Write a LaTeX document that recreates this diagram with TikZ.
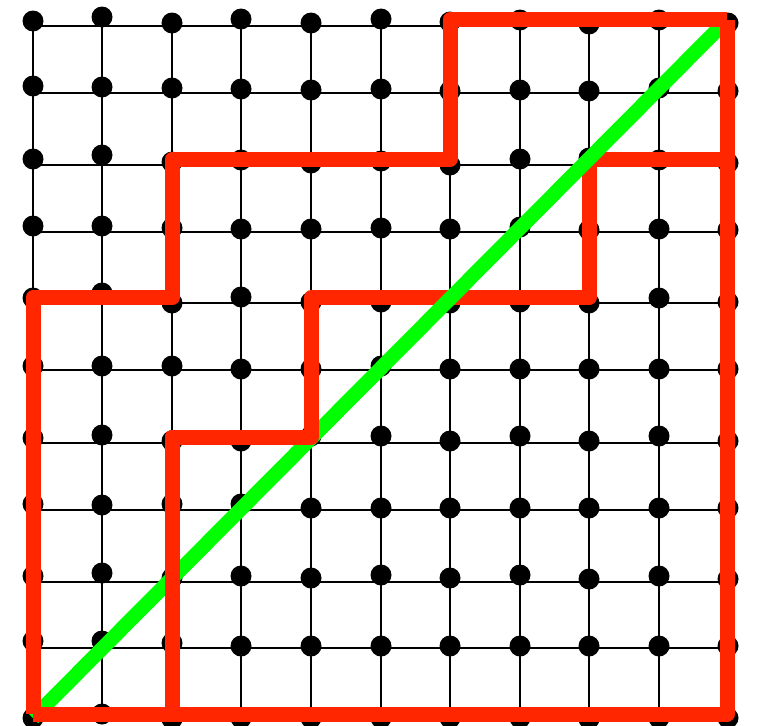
\documentclass[tikz,border=0pt]{standalone}
\definecolor{pathred}{RGB}{255,38,0}
\definecolor{diaggreen}{RGB}{0,255,0}
\tikzset{
  gridline/.style={line width=2.8pt,black},
  dot/.style={circle,fill=black,inner sep=0pt,minimum size=21pt},
  redline/.style={line width=15pt,pathred,line join=round,line cap=butt},
  diagline/.style={line width=14.5pt,diaggreen,line cap=butt}
}
\begin{document}
\begin{tikzpicture}[x=1pt,y=-1pt]
\useasboundingbox (0,0) rectangle (761,726);
% grid lines
\foreach \y in {26,93,165,232,303,370,443,510,582,648,714}
  \draw[gridline] (33,\y) -- (728,\y);
\foreach \x in {33,102,172,241,311,381,450,520,589,659,728}
  \draw[gridline] (\x,26) -- (\x,714);
% dots
\foreach \j/\ys in {
  0/{21,17,23,19,23,19,22,20,24,20,23},
  1/{86,87,88,89,90,89,91,90,91,88,91},
  2/{159,155,162,160,163,161,165,159,158,160,163},
  3/{226,226,228,229,229,228,229,227,230,229,230},
  4/{298,293,303,297,302,302,303,302,303,298,302},
  5/{366,366,366,369,369,366,369,369,369,369,369},
  6/{438,435,441,441,436,436,441,436,441,436,441},
  7/{504,505,504,504,508,508,508,508,508,508,508},
  8/{576,573,578,576,578,575,578,575,579,576,579},
  9/{641,641,643,646,646,646,646,646,646,646,646},
  10/{718,714,719,718,718,718,718,718,719,718,718}}{
  \foreach \yy [count=\i from 0] in \ys {
    \pgfmathsetmacro\xx{{33,102,172,241,311,381,450,520,589,659,728}[\i]}
    \node[dot] (d\i-\j) at (\xx,\yy) {};
  }
}
% red path vertices
\coordinate (bl) at (33,714);
\coordinate (br) at (727,714);
\coordinate (tr) at (727,19.5);
\coordinate (a1) at (33,297.5);
\coordinate (a2) at (172,297.5);
\coordinate (a3) at (172,159);
\coordinate (a4) at (450,159);
\coordinate (a5) at (450,19.5);
\coordinate (c0) at (172,714);
\coordinate (c1) at (172,437);
\coordinate (c2) at (311,437);
\coordinate (c3) at (311,297.5);
\coordinate (c3b) at (311,330);
\coordinate (c4) at (589,297.5);
\coordinate (c5) at (589,159);
\coordinate (c6) at (727,159);
% green diagonal ends
\coordinate (g0) at (33,718);
\coordinate (g1) at (727,20);
% lower staircase (under the diagonal)
\draw[redline] (c0) -- (c1) -- (c2) -- (c3) -- (c4) -- (c5) -- (c6);
% diagonal
\draw[diagline] (g0) -- (g1);
% red parts over the diagonal
\draw[redline] (c0) -- (c1) -- (c2) -- (c3b);
\draw[redline] (bl) -- (a1) -- (a2) -- (a3) -- (a4) -- (a5) -- (tr);
\draw[redline] (bl) -- (br) -- (tr);
\end{tikzpicture}
\end{document}
